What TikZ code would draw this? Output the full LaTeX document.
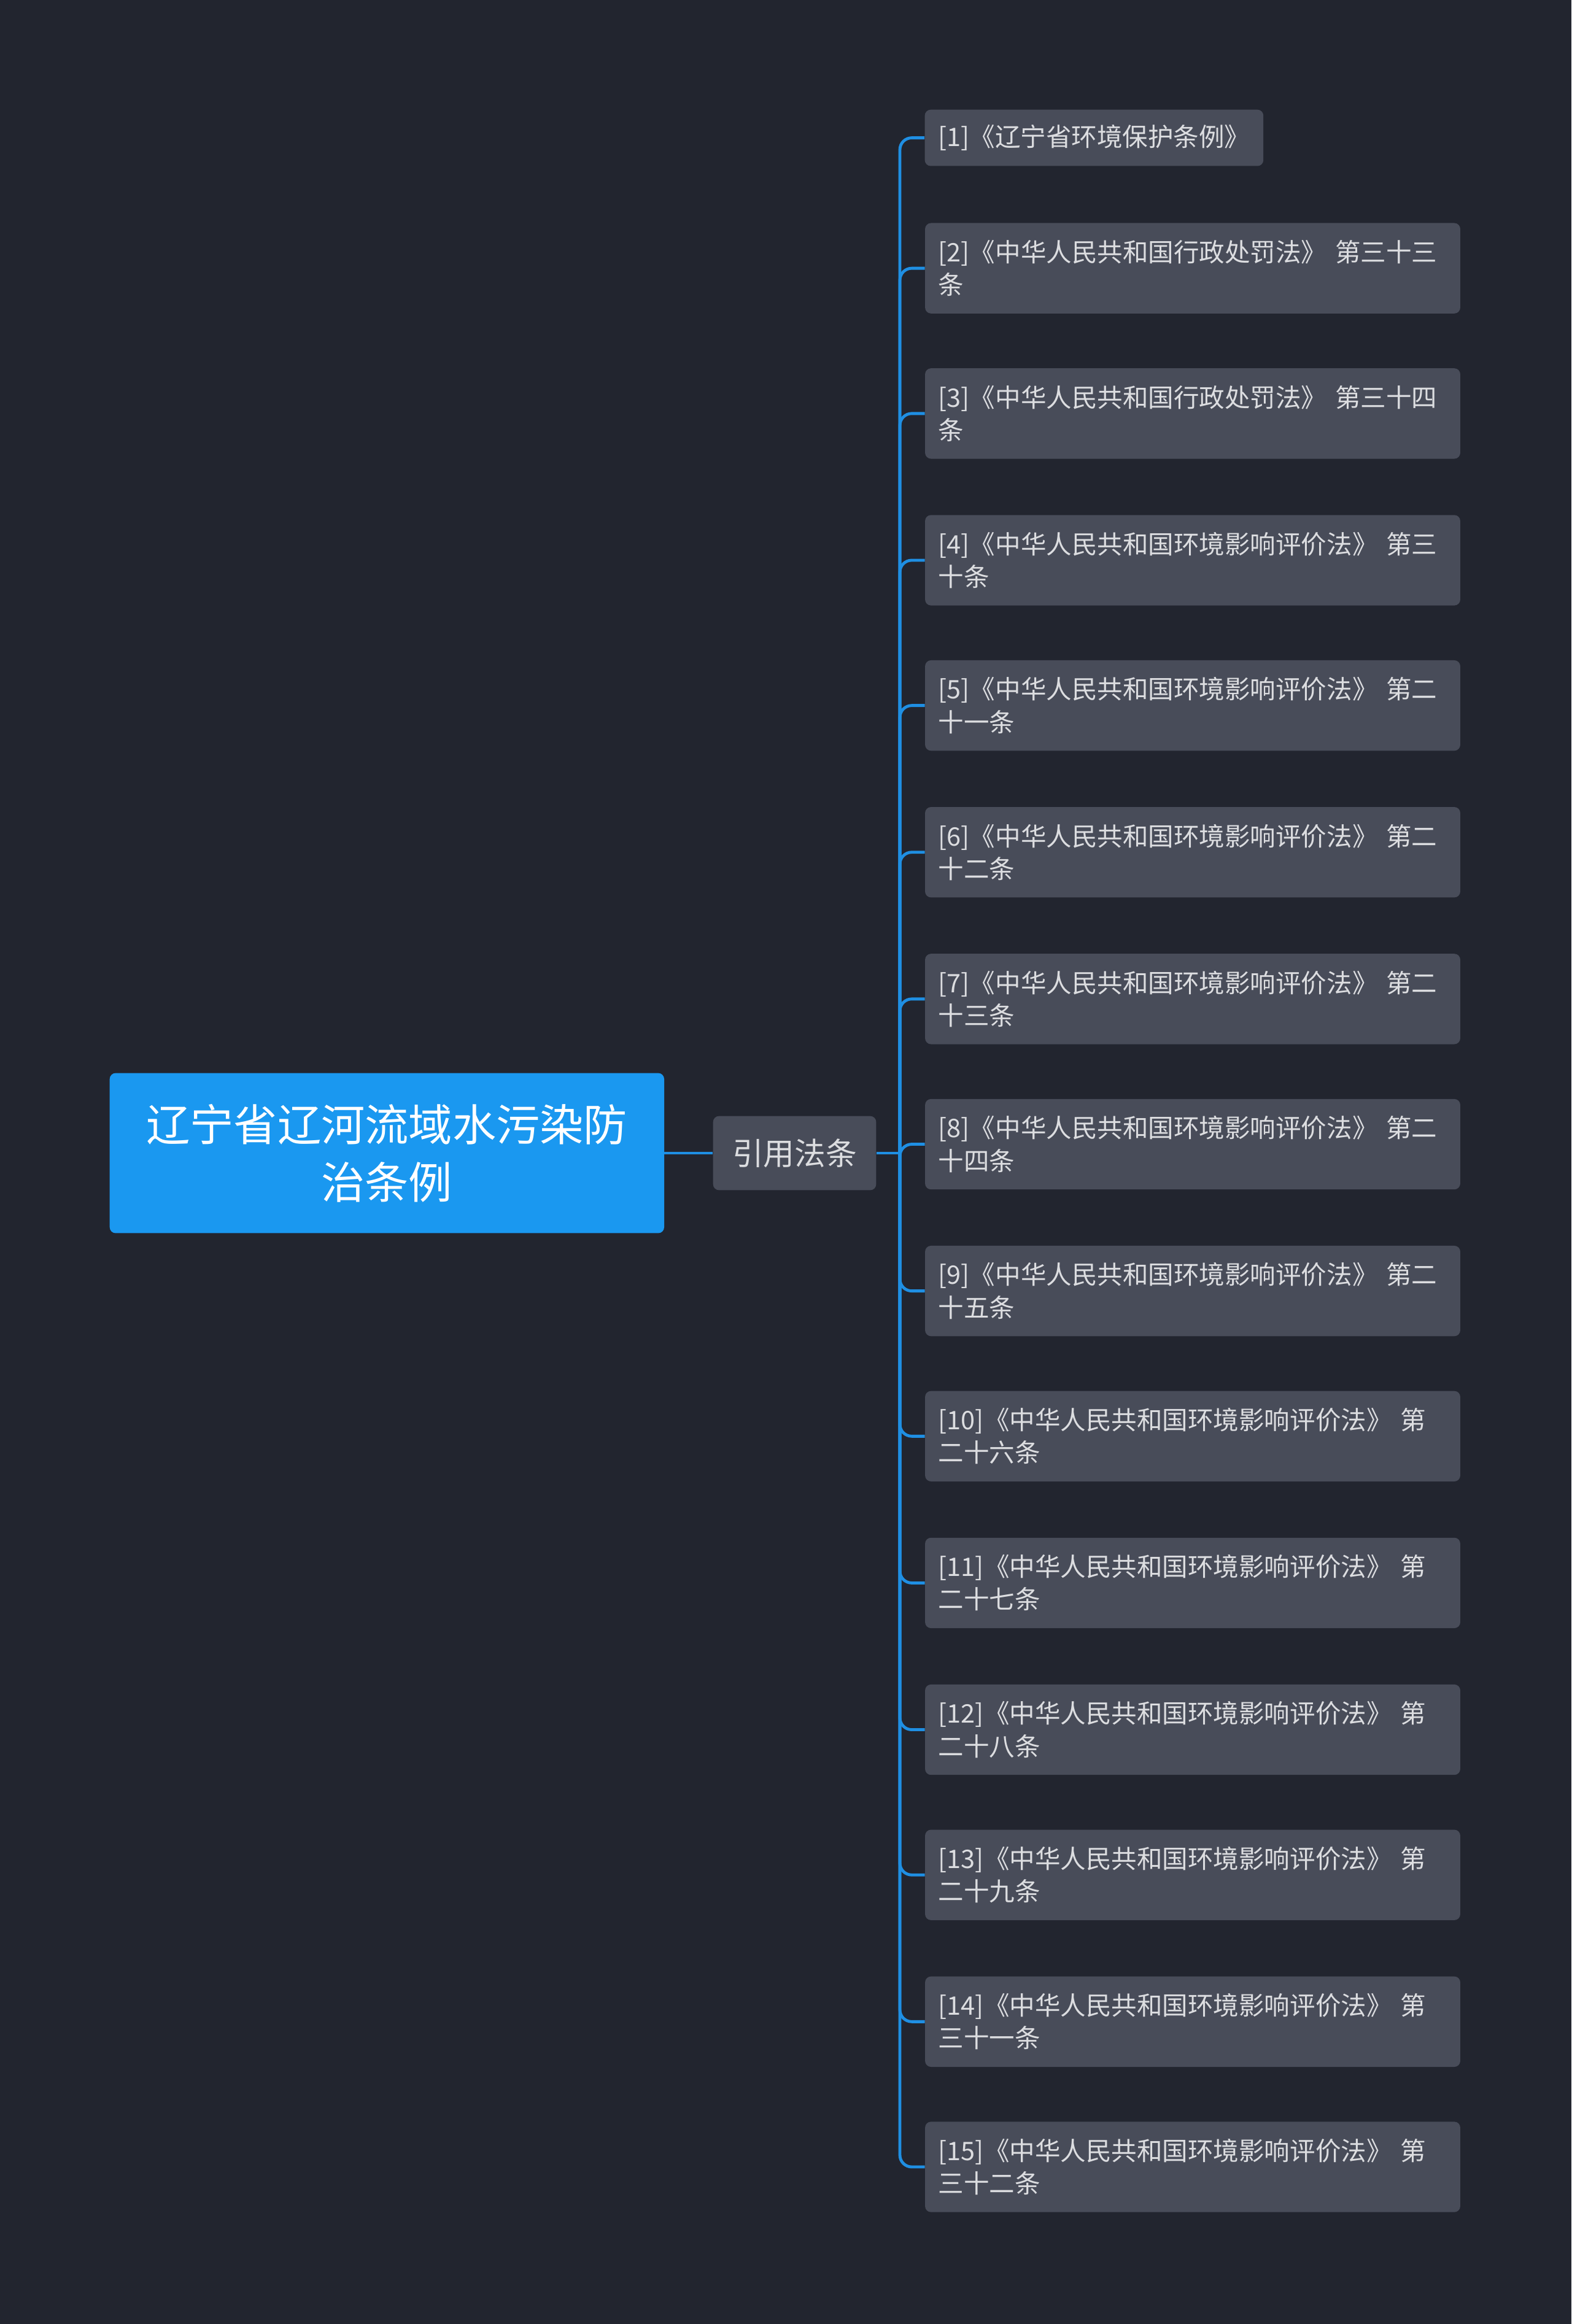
\documentclass[tikz,border=0pt]{standalone}
\usepackage{fontspec}
\setmainfont{Noto Sans CJK SC}
\begin{document}
\begin{tikzpicture}[x=1pt,y=-1pt,
  leaf/.style={fill=leafc,rounded corners=4pt,text=txt,font=\fontsize{17.2}{22}\selectfont,align=left,text width=343pt,inner xsep=9pt,inner ysep=4pt,minimum height=61pt},
  conn/.style={draw=linec,line width=2pt,rounded corners=8pt}]
\definecolor{bg}{HTML}{22252F}
\definecolor{leafc}{HTML}{484C59}
\definecolor{txt}{HTML}{DCDDE0}
\definecolor{linec}{HTML}{1F8FE3}
\definecolor{rootc}{HTML}{1A98F0}
\fill[bg] (0,0) rectangle (1060,1568);
\useasboundingbox (0,0) rectangle (1060,1568);
\node[fill=rootc,rounded corners=4pt,text=white,font=\fontsize{29.5}{39}\selectfont,align=center,minimum width=374pt,minimum height=108pt] (root) at (261,778) {辽宁省辽河流域水污染防\\治条例};
\node[fill=leafc,rounded corners=4pt,text=txt,font=\fontsize{21}{26}\selectfont,minimum width=110pt,minimum height=50pt] (mid) at (536,778) {引用法条};
\draw[conn] (root.east) -- (mid.west);
\coordinate (t) at (607,778);
\draw[conn] (mid.east) -- (t);
\node[fill=leafc,rounded corners=4pt,text=txt,font=\fontsize{17.2}{22}\selectfont,minimum width=228pt,minimum height=38pt,inner xsep=9pt] (l1) at (738,93) {[1]《辽宁省环境保护条例》};
\draw[conn] (t) |- (l1.west);
\foreach \i/\y/\t in {
2/181/{[2]《中华人民共和国行政处罚法》 第三十三\\条},
3/279/{[3]《中华人民共和国行政处罚法》 第三十四\\条},
4/378/{[4]《中华人民共和国环境影响评价法》 第三\\十条},
5/476/{[5]《中华人民共和国环境影响评价法》 第二\\十一条},
6/575/{[6]《中华人民共和国环境影响评价法》 第二\\十二条},
7/674/{[7]《中华人民共和国环境影响评价法》 第二\\十三条},
8/772/{[8]《中华人民共和国环境影响评价法》 第二\\十四条},
9/871/{[9]《中华人民共和国环境影响评价法》 第二\\十五条},
10/969/{[10]《中华人民共和国环境影响评价法》 第\\二十六条},
11/1068/{[11]《中华人民共和国环境影响评价法》 第\\二十七条},
12/1167/{[12]《中华人民共和国环境影响评价法》 第\\二十八条},
13/1265/{[13]《中华人民共和国环境影响评价法》 第\\二十九条},
14/1364/{[14]《中华人民共和国环境影响评价法》 第\\三十一条},
15/1462/{[15]《中华人民共和国环境影响评价法》 第\\三十二条}}{
  \node[leaf] (l\i) at (804.5,\y) {\t};
  \draw[conn] (t) |- (l\i.west);
}
\end{tikzpicture}
\end{document}
